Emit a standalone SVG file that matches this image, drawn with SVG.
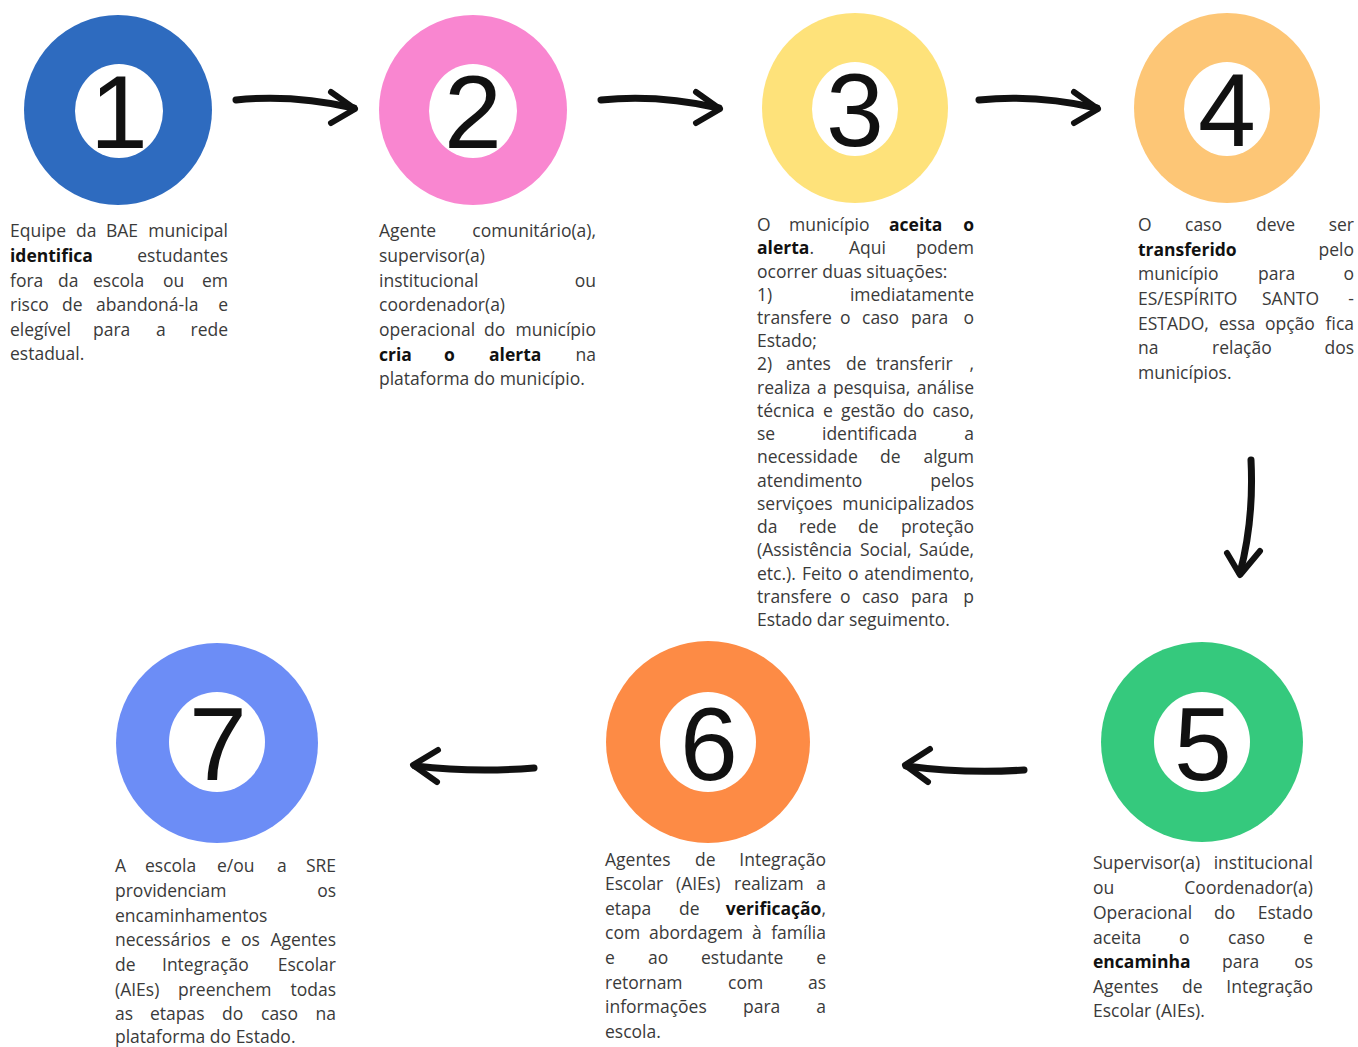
<svg xmlns="http://www.w3.org/2000/svg" width="1358" height="1047" viewBox="0 0 1358 1047">
<style>
.t{font-family:"Open Sans","Liberation Sans",sans-serif;font-size:17.5px;fill:#3a3a3a}
.b{font-weight:bold;fill:#111}
.r{text-anchor:end}
.in{fill:#fff}
.num{font-family:"Liberation Sans","DejaVu Sans",sans-serif;font-size:104px;fill:#111;text-anchor:middle}
.ar{fill:none;stroke:#111;stroke-linecap:round;stroke-linejoin:round}
.shaft{stroke-width:7}
.head{stroke-width:6}
</style>
<rect width="1358" height="1047" fill="#fff"/>

<g id="connectors">
  <path class="ar shaft" d="M236,100 Q292,94 354,108"/>
  <path class="ar head" d="M331,92 L355,109 L331,123"/>
  <path class="ar shaft" d="M601,100 Q657,94 719,108"/>
  <path class="ar head" d="M696,92 L720,109 L696,123"/>
  <path class="ar shaft" d="M979,100 Q1035,94 1097,108"/>
  <path class="ar head" d="M1074,92 L1098,109 L1074,123"/>
  <path class="ar shaft" d="M1251,460 Q1254,520 1240,573"/>
  <path class="ar head" d="M1227,553 L1240,575 L1260,551"/>
  <path class="ar shaft" d="M1024,770 Q965,774 906,766"/>
  <path class="ar head" d="M930,749 L905,765 L928,782"/>
  <path class="ar shaft" d="M534,768 Q475,773 415,766"/>
  <path class="ar head" d="M438,750 L413,765 L437,782"/>
</g>

<g id="node1">
  <ellipse cx="118" cy="110" rx="94" ry="95" fill="#2E6BBF"/>
  <ellipse class="in" cx="119" cy="111" rx="44" ry="47"/>
  <text class="num" x="119" y="148">1</text>
  <text class="t" y="237"><tspan x="10">Equipe</tspan><tspan x="76">da</tspan><tspan x="106">BAE</tspan></text>
  <text class="t r" x="228" y="237">municipal</text>
  <text class="t b" x="10" y="262">identifica</text>
  <text class="t r" x="228" y="262">estudantes</text>
  <text class="t" y="287"><tspan x="10">fora</tspan><tspan x="58">da</tspan><tspan x="93">escola</tspan><tspan x="163">ou</tspan></text>
  <text class="t r" x="228" y="287">em</text>
  <text class="t" y="311"><tspan x="10">risco</tspan><tspan x="62">de</tspan><tspan x="96">abandoná-la</tspan></text>
  <text class="t r" x="228" y="311">e</text>
  <text class="t" y="336"><tspan x="10">elegível</tspan><tspan x="93">para</tspan><tspan x="156">a</tspan></text>
  <text class="t r" x="228" y="336">rede</text>
  <text class="t" x="10" y="360">estadual.</text>
</g>

<g id="node2">
  <ellipse cx="473" cy="110" rx="94" ry="95" fill="#F986D0"/>
  <ellipse class="in" cx="473" cy="111" rx="44" ry="47"/>
  <text class="num" x="473" y="148">2</text>
  <text class="t" x="379" y="237">Agente</text>
  <text class="t r" x="596" y="237">comunitário(a),</text>
  <text class="t" x="379" y="262">supervisor(a)</text>
  <text class="t" x="379" y="287">institucional</text>
  <text class="t r" x="596" y="287">ou</text>
  <text class="t" x="379" y="311">coordenador(a)</text>
  <text class="t" y="336"><tspan x="379">operacional</tspan><tspan x="484">do</tspan></text>
  <text class="t r" x="596" y="336">município</text>
  <text class="t b" y="361"><tspan x="379">cria</tspan><tspan x="444">o</tspan><tspan x="489">alerta</tspan></text>
  <text class="t r" x="596" y="361">na</text>
  <text class="t" x="379" y="385">plataforma do município.</text>
</g>

<g id="node3">
  <ellipse cx="855" cy="108" rx="93" ry="95" fill="#FEE27A"/>
  <ellipse class="in" cx="855" cy="109" rx="43" ry="47"/>
  <text class="num" x="855" y="146">3</text>
  <text class="t" y="231"><tspan x="757">O</tspan><tspan x="789">município</tspan><tspan class="b" x="889">aceita</tspan></text>
  <text class="t b r" x="974" y="231">o</text>
  <text class="t" y="254"><tspan class="b" x="757">alerta</tspan>.<tspan x="849">Aqui</tspan></text>
  <text class="t r" x="974" y="254">podem</text>
  <text class="t" x="757" y="278">ocorrer duas situações:</text>
  <text class="t" x="757" y="301">1)</text>
  <text class="t r" x="974" y="301">imediatamente</text>
  <text class="t" y="324"><tspan x="757">transfere</tspan><tspan x="840">o</tspan><tspan x="862">caso</tspan><tspan x="911">para</tspan></text>
  <text class="t r" x="974" y="324">o</text>
  <text class="t" x="757" y="347">Estado;</text>
  <text class="t" y="370"><tspan x="757">2)</tspan><tspan x="786">antes</tspan><tspan x="846">de</tspan><tspan x="876">transferir</tspan></text>
  <text class="t r" x="974" y="370">,</text>
  <text class="t" y="394"><tspan x="757">realiza</tspan><tspan x="817">a</tspan><tspan x="833">pesquisa,</tspan></text>
  <text class="t r" x="974" y="394">análise</text>
  <text class="t" y="417"><tspan x="757">técnica</tspan><tspan x="823">e</tspan><tspan x="841">gestão</tspan><tspan x="903">do</tspan></text>
  <text class="t r" x="974" y="417">caso,</text>
  <text class="t" y="440"><tspan x="757">se</tspan><tspan x="822">identificada</tspan></text>
  <text class="t r" x="974" y="440">a</text>
  <text class="t" y="463"><tspan x="757">necessidade</tspan><tspan x="880">de</tspan></text>
  <text class="t r" x="974" y="463">algum</text>
  <text class="t" x="757" y="487">atendimento</text>
  <text class="t r" x="974" y="487">pelos</text>
  <text class="t" x="757" y="510">serviçoes</text>
  <text class="t r" x="974" y="510">municipalizados</text>
  <text class="t" y="533"><tspan x="757">da</tspan><tspan x="799">rede</tspan><tspan x="858">de</tspan></text>
  <text class="t r" x="974" y="533">proteção</text>
  <text class="t" y="556"><tspan x="757">(Assistência</tspan><tspan x="860">Social,</tspan></text>
  <text class="t r" x="974" y="556">Saúde,</text>
  <text class="t" y="580"><tspan x="757">etc.).</tspan><tspan x="802">Feito</tspan><tspan x="848">o</tspan></text>
  <text class="t r" x="974" y="580">atendimento,</text>
  <text class="t" y="603"><tspan x="757">transfere</tspan><tspan x="840">o</tspan><tspan x="862">caso</tspan><tspan x="911">para</tspan></text>
  <text class="t r" x="974" y="603">p</text>
  <text class="t" x="757" y="626">Estado dar seguimento.</text>
</g>

<g id="node4">
  <ellipse cx="1227" cy="108" rx="93" ry="95" fill="#FDC676"/>
  <ellipse class="in" cx="1227" cy="109" rx="43" ry="47"/>
  <text class="num" x="1227" y="146">4</text>
  <text class="t" y="231"><tspan x="1138">O</tspan><tspan x="1185">caso</tspan><tspan x="1256">deve</tspan></text>
  <text class="t r" x="1354" y="231">ser</text>
  <text class="t b" x="1138" y="256">transferido</text>
  <text class="t r" x="1354" y="256">pelo</text>
  <text class="t" y="280"><tspan x="1138">município</tspan><tspan x="1258">para</tspan></text>
  <text class="t r" x="1354" y="280">o</text>
  <text class="t" y="305"><tspan x="1138">ES/ESPÍRITO</tspan><tspan x="1262">SANTO</tspan></text>
  <text class="t r" x="1354" y="305">-</text>
  <text class="t" y="330"><tspan x="1138">ESTADO,</tspan><tspan x="1219">essa</tspan><tspan x="1265">opção</tspan></text>
  <text class="t r" x="1354" y="330">fica</text>
  <text class="t" y="354"><tspan x="1138">na</tspan><tspan x="1212">relação</tspan></text>
  <text class="t r" x="1354" y="354">dos</text>
  <text class="t" x="1138" y="379">municípios.</text>
</g>

<g id="node5">
  <ellipse cx="1202" cy="742" rx="101" ry="100" fill="#35C97D"/>
  <ellipse class="in" cx="1202" cy="742" rx="48" ry="50"/>
  <text class="num" x="1203" y="780">5</text>
  <text class="t" x="1093" y="869">Supervisor(a)</text>
  <text class="t r" x="1313" y="869">institucional</text>
  <text class="t" x="1093" y="894">ou</text>
  <text class="t r" x="1313" y="894">Coordenador(a)</text>
  <text class="t" y="919"><tspan x="1093">Operacional</tspan><tspan x="1214">do</tspan></text>
  <text class="t r" x="1313" y="919">Estado</text>
  <text class="t" y="944"><tspan x="1093">aceita</tspan><tspan x="1179">o</tspan><tspan x="1228">caso</tspan></text>
  <text class="t r" x="1313" y="944">e</text>
  <text class="t" y="968"><tspan class="b" x="1093">encaminha</tspan><tspan x="1222">para</tspan></text>
  <text class="t r" x="1313" y="968">os</text>
  <text class="t" y="993"><tspan x="1093">Agentes</tspan><tspan x="1182">de</tspan></text>
  <text class="t r" x="1313" y="993">Integração</text>
  <text class="t" x="1093" y="1017">Escolar (AIEs).</text>
</g>

<g id="node6">
  <ellipse cx="708" cy="742" rx="102" ry="101" fill="#FD8B45"/>
  <ellipse class="in" cx="708" cy="742" rx="48" ry="50"/>
  <text class="num" x="709" y="780">6</text>
  <text class="t" y="866"><tspan x="605">Agentes</tspan><tspan x="695">de</tspan></text>
  <text class="t r" x="826" y="866">Integração</text>
  <text class="t" y="890"><tspan x="605">Escolar</tspan><tspan x="676">(AIEs)</tspan><tspan x="734">realizam</tspan></text>
  <text class="t r" x="826" y="890">a</text>
  <text class="t" y="915"><tspan x="605">etapa</tspan><tspan x="679">de</tspan></text>
  <text class="t r" x="826" y="915"><tspan class="b">verificação</tspan>,</text>
  <text class="t" y="939"><tspan x="605">com</tspan><tspan x="649">abordagem</tspan><tspan x="752">à</tspan></text>
  <text class="t r" x="826" y="939">família</text>
  <text class="t" y="964"><tspan x="605">e</tspan><tspan x="648">ao</tspan><tspan x="701">estudante</tspan></text>
  <text class="t r" x="826" y="964">e</text>
  <text class="t" y="989"><tspan x="605">retornam</tspan><tspan x="728">com</tspan></text>
  <text class="t r" x="826" y="989">as</text>
  <text class="t" y="1013"><tspan x="605">informações</tspan><tspan x="743">para</tspan></text>
  <text class="t r" x="826" y="1013">a</text>
  <text class="t" x="605" y="1038">escola.</text>
</g>

<g id="node7">
  <ellipse cx="217" cy="743" rx="101" ry="100" fill="#6C8DF6"/>
  <ellipse class="in" cx="217" cy="742" rx="48" ry="50"/>
  <text class="num" x="218" y="780">7</text>
  <text class="t" y="872"><tspan x="115">A</tspan><tspan x="145">escola</tspan><tspan x="217">e/ou</tspan><tspan x="277">a</tspan></text>
  <text class="t r" x="336" y="872">SRE</text>
  <text class="t" x="115" y="897">providenciam</text>
  <text class="t r" x="336" y="897">os</text>
  <text class="t" x="115" y="922">encaminhamentos</text>
  <text class="t" y="946"><tspan x="115">necessários</tspan><tspan x="221">e</tspan><tspan x="241">os</tspan></text>
  <text class="t r" x="336" y="946">Agentes</text>
  <text class="t" y="971"><tspan x="115">de</tspan><tspan x="162">Integração</tspan></text>
  <text class="t r" x="336" y="971">Escolar</text>
  <text class="t" y="996"><tspan x="115">(AIEs)</tspan><tspan x="178">preenchem</tspan></text>
  <text class="t r" x="336" y="996">todas</text>
  <text class="t" y="1020"><tspan x="115">as</tspan><tspan x="150">etapas</tspan><tspan x="222">do</tspan><tspan x="261">caso</tspan></text>
  <text class="t r" x="336" y="1020">na</text>
  <text class="t" x="115" y="1043">plataforma do Estado.</text>
</g>
</svg>
